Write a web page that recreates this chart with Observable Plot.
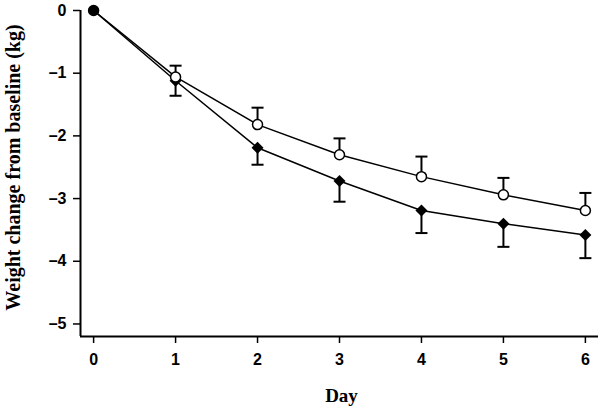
<!DOCTYPE html>
<html>
<head>
<meta charset="utf-8">
<script src="https://cdn.jsdelivr.net/npm/d3@7"></script>
<script src="https://cdn.jsdelivr.net/npm/@observablehq/plot@0.6"></script>
<style>
  html, body { margin: 0; padding: 0; background: #fff; }
</style>
</head>
<body>
<div id="chart"></div>
<script>
// ---- data ----
const days = [0, 1, 2, 3, 4, 5, 6];
const openMean  = [0, -1.06, -1.82, -2.30, -2.65, -2.94, -3.19];
const openUpper = [0, -0.88, -1.55, -2.04, -2.33, -2.67, -2.91];
const filledMean  = [0, -1.12, -2.19, -2.72, -3.19, -3.40, -3.58];
const filledLower = [0, -1.36, -2.46, -3.05, -3.55, -3.77, -3.95];
const xTicks = [0, 1, 2, 3, 4, 5, 6];
const yTicks = [0, -1, -2, -3, -4, -5];
const xDomain = [-0.16, 6.16];
const yDomain = [-5.2, 0];
const xTitle = "Day";
const yTitle = "Weight change from baseline (kg)";

const openData = days.map((d, i) => ({day: d, mean: openMean[i], upper: openUpper[i]}));
const filledData = days.map((d, i) => ({day: d, mean: filledMean[i], lower: filledLower[i]}));

const capSymbol = {
  draw(context, size) {
    const w = Math.sqrt(size / Math.PI);
    context.moveTo(-w, 0);
    context.lineTo(w, 0);
  }
};

const sans = "Liberation Sans, Arial, sans-serif";
const serif = "Liberation Serif, Times New Roman, serif";
const minus = d => d < 0 ? "\u2013" + Math.abs(d) : String(d);

const chart = Plot.plot({
  width: 601,
  height: 410,
  marginLeft: 80,
  marginRight: 3,
  marginTop: 10,
  marginBottom: 74,
  style: {background: "#fff", color: "#000", fontSize: "16px", fontWeight: "bold", fontFamily: sans},
  x: {domain: xDomain},
  y: {domain: yDomain},
  marks: [
    Plot.ruleX([xDomain[0]], {stroke: "#000", strokeWidth: 2}),
    Plot.ruleY([yDomain[0]], {stroke: "#000", strokeWidth: 2}),
    Plot.axisX({ticks: xTicks, tickSize: 7, tickPadding: 10, tickFormat: d => String(d), label: null, strokeWidth: 1.5}),
    Plot.axisY({ticks: yTicks, tickSize: 7, tickPadding: 7, tickFormat: minus, label: null, strokeWidth: 1.5}),
    Plot.text([xTitle], {frameAnchor: "bottom", textAnchor: "middle", dx: 2, dy: 65, text: d => d, fontSize: 19, fontWeight: "bold", fontFamily: serif, fill: "#000"}),
    Plot.text([yTitle], {frameAnchor: "left", textAnchor: "middle", dx: -67, dy: -6, rotate: -90, text: d => d, fontSize: 20, fontWeight: "bold", fontFamily: serif, fill: "#000"}),
    Plot.line(openData, {x: "day", y: "mean", stroke: "#000", strokeWidth: 1.5}),
    Plot.line(filledData, {x: "day", y: "mean", stroke: "#000", strokeWidth: 1.5}),
    Plot.ruleX(openData.filter(d => d.day > 0), {x: "day", y1: "mean", y2: "upper", stroke: "#000", strokeWidth: 2}),
    Plot.ruleX(filledData.filter(d => d.day > 0), {x: "day", y1: "mean", y2: "lower", stroke: "#000", strokeWidth: 2}),
    Plot.dot(openData.filter(d => d.day > 0), {x: "day", y: "upper", symbol: capSymbol, r: 6, stroke: "#000", strokeWidth: 2, fill: "none"}),
    Plot.dot(filledData.filter(d => d.day > 0), {x: "day", y: "lower", symbol: capSymbol, r: 6, stroke: "#000", strokeWidth: 2, fill: "none"}),
    Plot.dot(filledData.filter(d => d.day > 0), {x: "day", y: "mean", symbol: "diamond2", r: 5.4, fill: "#000", stroke: "none"}),
    Plot.dot(openData, {x: "day", y: "mean", r: 5, fill: d => d.day === 0 ? "#000" : "#fff", stroke: "#000", strokeWidth: 1.5}),
  ]
});
document.getElementById("chart").appendChild(chart);
</script>
</body>
</html>
